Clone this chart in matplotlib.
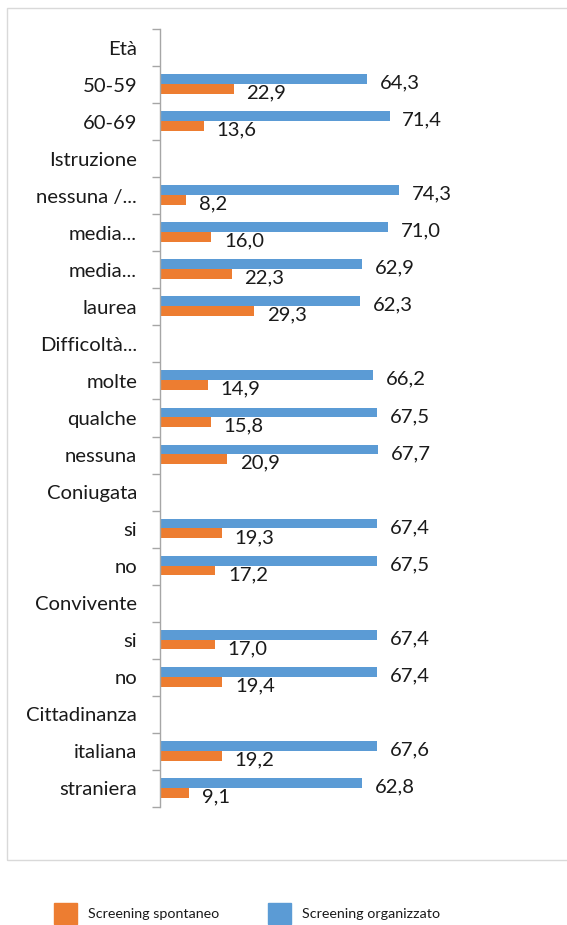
import numpy as np
import matplotlib
matplotlib.use("Agg")
import matplotlib.pyplot as plt
from matplotlib.patches import Rectangle, Patch

categories = ["Età", "50-59", "60-69", "Istruzione", "nessuna /...", "media...",
              "media...", "laurea", "Difficoltà...", "molte", "qualche", "nessuna",
              "Coniugata", "si", "no", "Convivente", "si", "no", "Cittadinanza",
              "italiana", "straniera"]
organizzato = [np.nan, 64.3, 71.4, np.nan, 74.3, 71.0, 62.9, 62.3, np.nan, 66.2, 67.5,
               67.7, np.nan, 67.4, 67.5, np.nan, 67.4, 67.4, np.nan, 67.6, 62.8]
spontaneo = [np.nan, 22.9, 13.6, np.nan, 8.2, 16.0, 22.3, 29.3, np.nan, 14.9, 15.8,
             20.9, np.nan, 19.3, 17.2, np.nan, 17.0, 19.4, np.nan, 19.2, 9.1]
series_names = ["Screening spontaneo", "Screening organizzato"]

BLUE = "#5b9bd5"
ORANGE = "#ed7d31"
TXT = "#1a1a1a"

plt.rcParams['font.family'] = ['Lato', 'DejaVu Sans']

W, H = 567, 925
fig = plt.figure(figsize=(W / 100, H / 100), dpi=100)

# outer border
fig.patches.append(Rectangle((7 / W, 1 - 860 / H), 1.2, (860 - 8) / H,
                             transform=fig.transFigure, fill=False,
                             edgecolor="#d9d9d9", linewidth=1.0))

ax_left, ax_top, ax_bot = 160, 29, 807
scale = 3.215  # px per unit
ax_w = 400
ax = fig.add_axes([ax_left / W, 1 - ax_bot / H, ax_w / W, (ax_bot - ax_top) / H])
ax.set_xlim(0, ax_w / scale)
n = len(categories)
ax.set_ylim(n - 0.5, -0.5)

y = np.arange(n)
org = np.array(organizzato, dtype=float)
spo = np.array(spontaneo, dtype=float)
mo = ~np.isnan(org)
ms = ~np.isnan(spo)

h = 0.265
ax.barh(y[mo] - 0.15, org[mo], height=h, color=BLUE, label=series_names[1])
ax.barh(y[ms] + 0.115, spo[ms], height=h, color=ORANGE, label=series_names[0])

FS = 14.6
fmt = lambda v: f"{v:.1f}".replace(".", ",")
for yi, v in zip(y[mo], org[mo]):
    ax.annotate(fmt(v), (v, yi), xytext=(9.2, -2.8), textcoords="offset points",
                ha="left", va="baseline", fontsize=FS, color=TXT)
for yi, v in zip(y[ms], spo[ms]):
    ax.annotate(fmt(v), (v, yi), xytext=(9.2, -9.9), textcoords="offset points",
                ha="left", va="baseline", fontsize=FS, color=TXT)

for s in ["top", "right", "bottom"]:
    ax.spines[s].set_visible(False)
ax.spines["left"].set_color("#a6a6a6")
ax.spines["left"].set_linewidth(1.0)
ax.xaxis.set_visible(False)

ax.set_yticks(y)
ax.set_yticklabels(categories, fontsize=FS, color=TXT)
ax.tick_params(axis="y", which="major", length=0, pad=16.5)
ax.set_yticks(np.arange(n + 1) - 0.5, minor=True)
ax.tick_params(axis="y", which="minor", length=5.8, width=1.0, color="#a6a6a6",
               direction="out")

# legend (two single-entry legends placed at pixel positions)
handles = {series_names[0]: Patch(color=ORANGE), series_names[1]: Patch(color=BLUE)}
for name, x0 in [(series_names[0], 54), (series_names[1], 268)]:
    lg = fig.legend([handles[name]], [name], loc="upper left",
                    bbox_to_anchor=(x0 / W, 1 - 903 / H), bbox_transform=fig.transFigure,
                    frameon=False, fontsize=10.3, handlelength=1.6, handleheight=1.85,
                    handletextpad=0.8, borderpad=0, borderaxespad=0)
    for t in lg.get_texts():
        t.set_color(TXT)

fig.savefig("out.png", dpi=100, facecolor="white")
